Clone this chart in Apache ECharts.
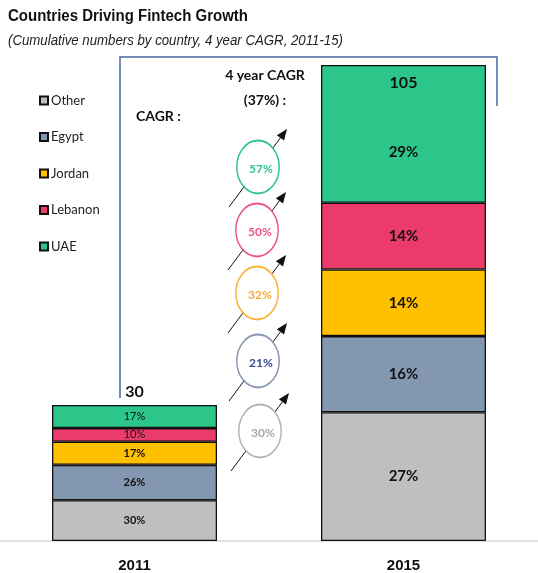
<!DOCTYPE html>
<html>
<head>
<meta charset="utf-8">
<script src="https://cdn.jsdelivr.net/npm/echarts@6/dist/echarts.min.js"></script>
<style>
  html, body { margin: 0; padding: 0; background: #fff; }
  #chart { width: 538px; height: 573px; }
</style>
</head>
<body>
<div id="chart"></div>
<script>
// data
const years = ["2011", "2015"];
const totals = [30, 105];
const countries = ["Other", "Egypt", "Jordan", "Lebanon", "UAE"];
const other = [9, 28.4];
const egypt = [7.8, 16.8];
const jordan = [5.1, 14.7];
const lebanon = [3, 14.7];
const uae = [5.1, 30.4];
const shareOther = ["30%", "27%"];
const shareEgypt = ["26%", "16%"];
const shareJordan = ["17%", "14%"];
const shareLebanon = ["10%", "14%"];
const shareUae = ["17%", "29%"];
const cagr = ["30%", "21%", "32%", "50%", "57%"]; // Other, Egypt, Jordan, Lebanon, UAE
const cagrTotal = "37%";

const barColors = ["#bfbfbf", "#8497b0", "#ffc000", "#ea3b6b", "#2cc58a"];
const ringColors = ["#b3b3b3", "#8497b0", "#fbb034", "#ec5580", "#30c487"];
const ringText = ["#a8a8a8", "#2f4d8f", "#f8a830", "#ec5580", "#30c487"];
const ringY = [431, 361, 293, 230, 167];
const ringX = [260, 258, 257, 257, 258];

const arial = "'Liberation Sans', Arial, sans-serif";
const calib = "Lato, 'Open Sans', sans-serif";

const values = [other, egypt, jordan, lebanon, uae];
const shares = [shareOther, shareEgypt, shareJordan, shareLebanon, shareUae];

// squeeze Arial to look like Arial Narrow
const ctx = document.createElement("canvas").getContext("2d");
function squeeze(text, font, width) {
  ctx.font = font;
  return width / ctx.measureText(text).width;
}

const series = countries.map((name, i) => ({
  name: name,
  type: "bar",
  stack: "all",
  barWidth: 165,
  itemStyle: { color: barColors[i], borderColor: "#111", borderWidth: 1.3 },
  label: {
    show: true,
    position: "inside",
    color: "#111",
    fontFamily: calib,
    formatter: p => shares[i][p.dataIndex]
  },
  data: values[i].map((v, j) => ({
    value: v,
    label: j === 0
      ? { fontSize: 11, fontWeight: (i >= 3 ? "normal" : "bold") }
      : { fontSize: 15, fontWeight: "bold", offset: [0, i === 4 ? 18 : 0] }
  }))
}));

// totals above / inside the bars
series.push({
  name: "total",
  type: "bar",
  stack: "all",
  barWidth: 165,
  itemStyle: { color: "transparent" },
  label: {
    show: true,
    position: "top",
    color: "#111",
    fontFamily: calib,
    fontWeight: "bold",
    fontSize: 16,
    formatter: p => String(totals[p.dataIndex])
  },
  data: [
    { value: 0, label: { offset: [0, 0] } },
    { value: 0, label: { offset: [0, 31] } }
  ]
});

const titleText = "Countries Driving Fintech Growth";
const titleFont = "bold 16px " + arial;
const subText = "(Cumulative numbers by country, 4 year CAGR, 2011-15)";
const subFont = "italic 15px " + arial;

const graphics = [
  { type: "text", x: 8, y: 9, scaleX: squeeze(titleText, titleFont, 240),
    style: { text: titleText, font: titleFont, fill: "#111" } },
  { type: "text", x: 8, y: 33, scaleX: squeeze(subText, subFont, 335),
    style: { text: subText, font: subFont, fill: "#222" } },
  { type: "polyline", shape: { points: [[120, 398], [120, 57], [497, 57], [497, 106]] },
    style: { stroke: "#4a66a0", lineWidth: 1.5, fill: null } },
  { type: "text", x: 136, y: 109,
    style: { text: "CAGR :", font: "bold 14px " + calib, fill: "#111" } },
  { type: "text", x: 265, y: 68,
    style: { text: "4 year CAGR", font: "bold 14px " + calib, fill: "#111", align: "center" } },
  { type: "text", x: 265, y: 93,
    style: { text: "(" + cagrTotal + ") :", font: "bold 14px " + calib, fill: "#111", align: "center" } }
];

cagr.forEach((txt, i) => {
  const cx = ringX[i], cy = ringY[i];
  const x0 = cx - 29, y0 = cy + 40, x1 = cx + 29, y1 = cy - 38;
  const len = Math.hypot(x1 - x0, y1 - y0);
  const dx = (x1 - x0) / len, dy = (y1 - y0) / len;
  const bx = x1 - dx * 11, by = y1 - dy * 11;
  graphics.push({ type: "line", z: 1, shape: { x1: x0, y1: y0, x2: bx, y2: by },
    style: { stroke: "#111", lineWidth: 1 } });
  graphics.push({ type: "polygon", z: 1,
    shape: { points: [[x1, y1], [bx - dy * 4.5, by + dx * 4.5], [bx + dy * 4.5, by - dx * 4.5]] },
    style: { fill: "#111" } });
  graphics.push({ type: "circle", z: 2, x: cx, y: cy, scaleX: 0.8,
    shape: { cx: 0, cy: 0, r: 26.5 },
    style: { fill: "#fff", stroke: ringColors[i], lineWidth: 1.8 } });
  graphics.push({ type: "text", z: 3, x: cx + 3, y: cy + 2,
    style: { text: txt, font: "bold 12px " + calib, fill: ringText[i], align: "center", verticalAlign: "middle" } });
});

const chart = echarts.init(document.getElementById("chart"));
chart.setOption({
  animation: false,
  legend: {
    data: countries,
    orient: "vertical",
    left: 34,
    top: 89,
    itemWidth: 8,
    itemHeight: 8,
    itemGap: 23.5,
    icon: "rect",
    textStyle: { fontFamily: calib, fontSize: 13, color: "#222", padding: [0, 0, 0, -2] }
  },
  grid: { left: -1, right: -3, top: 65, bottom: 31 },
  xAxis: {
    type: "category",
    data: years,
    axisTick: { show: false },
    axisLine: { lineStyle: { color: "#d9d9d9", width: 1.5 } },
    axisLabel: { color: "#111", fontFamily: arial, fontWeight: "bold", fontSize: 15, margin: 17 }
  },
  yAxis: { type: "value", min: 0, max: 105, show: false, splitLine: { show: false } },
  series: series,
  graphic: graphics
});
</script>
</body>
</html>
